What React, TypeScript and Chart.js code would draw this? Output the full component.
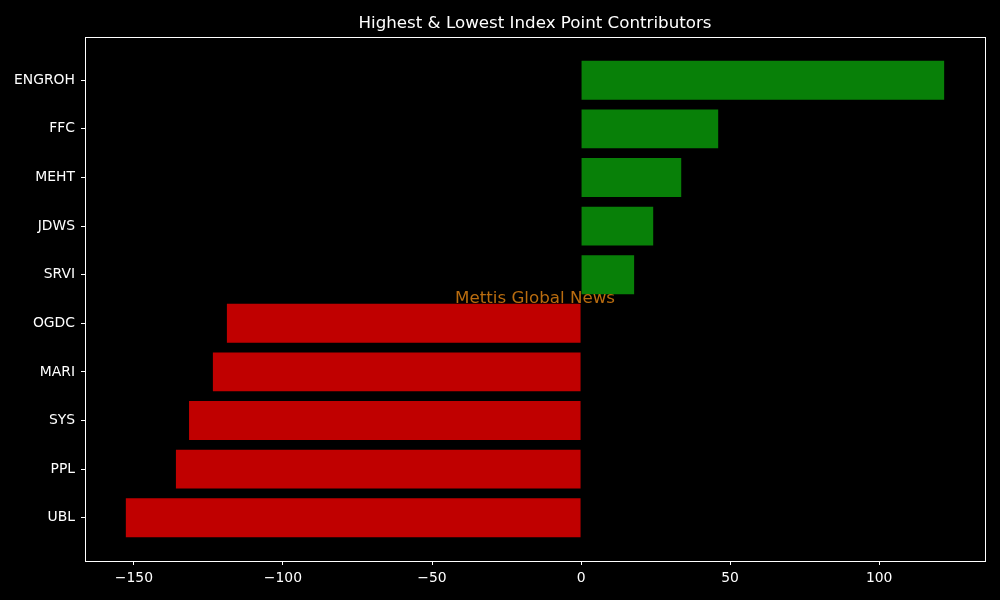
import React, { useEffect, useRef } from "react";
import { Chart, registerables } from "chart.js";

Chart.register(...registerables);

const categories = ["ENGROH", "FFC", "MEHT", "JDWS", "SRVI", "OGDC", "MARI", "SYS", "PPL", "UBL"];
const values = [121.8, 46.0, 33.6, 24.2, 17.8, -118.8, -123.5, -131.5, -135.9, -152.7];
const xTicks = [-150, -100, -50, 0, 50, 100];
const title = "Highest & Lowest Index Point Contributors";
const watermark = "Mettis Global News";

const FONT = "'DejaVu Sans', sans-serif";

export default function App() {
  const ref = useRef<HTMLCanvasElement | null>(null);
  useEffect(() => {
    const canvas = ref.current!;
    const framePlugin = {
      id: "frame",
      beforeDraw(chart: any) {
        const ctx = chart.ctx;
        ctx.save();
        ctx.fillStyle = "#000";
        ctx.fillRect(0, 0, chart.width, chart.height);
        ctx.restore();
      },
      afterDraw(chart: any) {
        const { ctx, chartArea: a } = chart;
        ctx.save();
        ctx.strokeStyle = "#fff";
        ctx.lineWidth = 1;
        ctx.strokeRect(Math.round(a.left) + 0.5, Math.round(a.top) + 0.5, Math.round(a.right - a.left), Math.round(a.bottom - a.top));
        ctx.fillStyle = "#fff";
        ctx.font = `16.7px ${FONT}`;
        ctx.textAlign = "center";
        ctx.textBaseline = "middle";
        ctx.fillText(title, (a.left + a.right) / 2, 23.5);
        ctx.fillStyle = "rgb(185,108,15)";
        ctx.font = `16.7px ${FONT}`;
        ctx.fillText(watermark, (a.left + a.right) / 2, (a.top + a.bottom) / 2);
        ctx.restore();
      },
    };
    const chart = new Chart(canvas, {
      type: "bar",
      data: {
        datasets: [
          {
            data: values.map((v, i) => ({ x: v, y: i })),
            backgroundColor: values.map((v) => (v >= 0 ? "rgb(8,128,8)" : "rgb(192,0,0)")),
            barPercentage: 0.8,
            categoryPercentage: 1.0,
          },
        ],
      },
      options: {
        indexAxis: "y",
        animation: false,
        responsive: false,
        layout: { padding: { left: 0, right: 15, top: 37, bottom: 0 } },
        plugins: { legend: { display: false }, tooltip: { enabled: false }, title: { display: false } },
        scales: {
          x: {
            type: "linear",
            min: -166.4,
            max: 135.5,
            offset: false,
            afterBuildTicks: (axis: any) => {
              axis.ticks = xTicks.map((v) => ({ value: v }));
            },
            afterFit: (axis: any) => {
              axis.height = 39;
            },
            ticks: {
              color: "#fff",
              font: { family: FONT, size: 13.9 },
              padding: 5,
              maxRotation: 0,
              autoSkip: false,
              callback: (v: any) => (Number(v) < 0 ? "\u2212" + Math.abs(Number(v)) : String(v)),
            },
            grid: { drawOnChartArea: false, drawTicks: true, tickLength: 4, color: "#fff", offset: false },
            border: { display: false },
          },
          y: {
            type: "linear",
            reverse: true,
            min: -0.89,
            max: 9.89,
            offset: false,
            afterBuildTicks: (axis: any) => {
              axis.ticks = categories.map((_, i) => ({ value: i }));
            },
            afterFit: (axis: any) => {
              axis.width = 85;
            },
            ticks: {
              color: "#fff",
              font: { family: FONT, size: 13.9 },
              padding: 6,
              autoSkip: false,
              callback: (v: any) => categories[Number(v)] ?? "",
            },
            grid: { drawOnChartArea: false, drawTicks: true, tickLength: 4, color: "#fff", offset: false },
            border: { display: false },
          },
        },
      },
      plugins: [framePlugin],
    } as any);
    return () => chart.destroy();
  }, []);
  return (
    <div style={{ position: "fixed", left: 0, top: 0, width: 1000, height: 600, background: "#000" }}>
      <canvas ref={ref} width={1000} height={600} style={{ width: 1000, height: 600, display: "block" }} />
    </div>
  );
}
